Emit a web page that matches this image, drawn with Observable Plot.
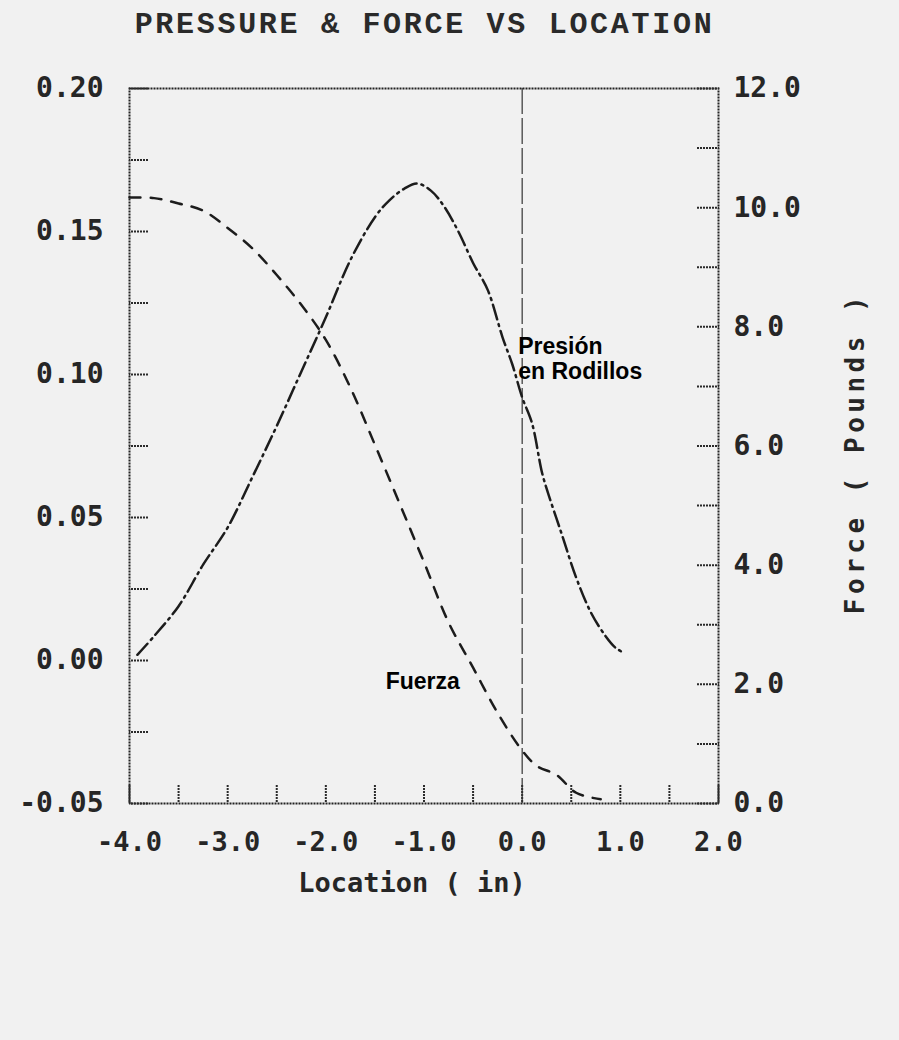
<!DOCTYPE html>
<html><head><meta charset="utf-8">
<script src="https://cdn.jsdelivr.net/npm/d3@7"></script>
<script src="https://cdn.jsdelivr.net/npm/@observablehq/plot@0.6"></script>
<style>
body{margin:0;background:#f1f1f1;width:899px;height:1040px;overflow:hidden}
#title{height:60px;width:899px;font:bold 30px "Liberation Mono",monospace;letter-spacing:2.7px;color:#2a2a2a;line-height:50px;text-align:center;padding-right:50px;box-sizing:border-box;white-space:nowrap}
</style></head><body>
<div id="title"></div>
<div id="chart"></div>
<script>
const titleText = "PRESSURE & FORCE VS LOCATION";
const xLabelText = "Location ( in)";
const rightLabelText = "Force ( Pounds )";

// Pressure (left axis), dash-dot curve
const pressureX = [-3.92, -3.75, -3.5, -3.25, -3.0, -2.75, -2.5, -2.25, -2.0, -1.75, -1.5, -1.35, -1.2, -1.07, -0.93, -0.8, -0.65, -0.5, -0.35, -0.2, -0.1, 0.0, 0.1, 0.2, 0.25, 0.4, 0.55, 0.7, 0.85, 0.95, 1.05];
const pressure  = [0.002, 0.0085, 0.019, 0.0335, 0.0465, 0.064, 0.082, 0.101, 0.120, 0.140, 0.155, 0.161, 0.165, 0.1668, 0.1643, 0.159, 0.150, 0.139, 0.1295, 0.113, 0.1035, 0.092, 0.083, 0.066, 0.060, 0.0445, 0.029, 0.0168, 0.0085, 0.0045, 0.0024];

// Force in pounds (right axis), dashed curve
const fuerzaX = [-4.0, -3.75, -3.5, -3.25, -3.0, -2.75, -2.5, -2.25, -2.0, -1.75, -1.5, -1.25, -1.0, -0.75, -0.5, -0.25, 0.0, 0.15, 0.35, 0.55, 0.8];
const fuerza  = [10.17, 10.16, 10.07, 9.95, 9.66, 9.32, 8.87, 8.37, 7.78, 6.98, 6.02, 5.04, 4.05, 3.04, 2.28, 1.52, 0.89, 0.63, 0.48, 0.18, 0.07];

const xTicks  = [-4, -3.5, -3, -2.5, -2, -1.5, -1, -0.5, 0, 0.5, 1, 1.5, 2];
const xLabels = [-4, -3, -2, -1, 0, 1, 2];
const pTicks  = [-0.05, -0.025, 0, 0.025, 0.05, 0.075, 0.1, 0.125, 0.15, 0.175, 0.2];
const pLabels = [-0.05, 0, 0.05, 0.1, 0.15, 0.2];
const fTicks  = [0, 1, 2, 3, 4, 5, 6, 7, 8, 9, 10, 11, 12];
const fLabels = [0, 2, 4, 6, 8, 10, 12];

const noteX = [-0.04, -0.04, -1.39];
const noteY = [0.1073, 0.0986, -0.0101];
const noteText = ["Presión", "en Rodillos", "Fuerza"];

document.getElementById("title").textContent = titleText;

const toP = f => -0.05 + f * 0.25 / 12;
const fromP = p => (p + 0.05) * 12 / 0.25;

const ink = "#262626";
const mono = "DejaVu Sans Mono";
const tickStyle = {label: null, tickFormat: () => "", stroke: "#2a2a2a", strokeWidth: 2, strokeDasharray: "2,1"};

const chart = Plot.plot({
  width: 899,
  height: 980,
  marginLeft: 129,
  marginRight: 181,
  marginTop: 28,
  marginBottom: 237,
  style: {background: "none", color: ink, fontFamily: mono, fontWeight: "bold", fontSize: "27px"},
  x: {domain: [-4, 2]},
  y: {domain: [-0.05, 0.2]},
  marks: [
    Plot.frame({stroke: "#222", strokeWidth: 2, strokeDasharray: "2,1"}),
    // inward ticks
    Plot.axisY(pTicks, {anchor: "left", tickSize: 19, dx: 19, ...tickStyle}),
    Plot.axisY(fTicks.map(toP), {anchor: "right", tickSize: 22, dx: -22, ...tickStyle}),
    Plot.axisX(xTicks, {anchor: "bottom", tickSize: 18, dy: -18, ...tickStyle}),
    // tick labels
    Plot.axisY(pLabels, {anchor: "left", tickSize: 0, tickPadding: 26, tickFormat: d => d.toFixed(2), label: null, fontSize: 28, fontFamily: mono, fontWeight: "bold", fill: ink}),
    Plot.axisY(fLabels.map(toP), {anchor: "right", tickSize: 0, tickPadding: 15, tickFormat: p => fromP(p).toFixed(1), label: null, fontSize: 28, fontFamily: mono, fontWeight: "bold", fill: ink}),
    Plot.axisX(xLabels, {anchor: "bottom", tickSize: 0, tickPadding: 28, tickFormat: d => d.toFixed(1), label: null, fontSize: 27, fontFamily: mono, fontWeight: "bold", fill: ink}),
    // axis titles
    Plot.text([xLabelText], {frameAnchor: "bottom", dy: 88, dx: -12, textAnchor: "middle", fontSize: 27, fontFamily: mono, fontWeight: "bold", fill: ink}),
    Plot.text([rightLabelText], {frameAnchor: "right", dx: 137, dy: 7, rotate: -90, textAnchor: "middle", fontSize: 26, fontFamily: mono, fontWeight: "bold", fill: ink}),
    // x = 0 reference line
    Plot.ruleX([0], {stroke: "#333", strokeWidth: 1.2, strokeDasharray: "26,4"}),
    // curves
    Plot.line(pressure, {x: pressureX, y: pressure, curve: "catmull-rom", stroke: "#1c1c1c", strokeWidth: 2.5, strokeDasharray: "15,5,2,5"}),
    Plot.line(fuerza, {x: fuerzaX, y: fuerza.map(toP), curve: "catmull-rom", stroke: "#1c1c1c", strokeWidth: 2.5, strokeDasharray: "11,10"}),
    // annotations
    Plot.text(noteText, {x: noteX, y: noteY, text: noteText, textAnchor: "start", lineAnchor: "bottom", fontFamily: "Liberation Sans", fontWeight: "bold", fontSize: 23, fill: "#000"})
  ]
});
d3.select(chart).selectAll("text")
  .filter(function() { return this.textContent === rightLabelText; })
  .style("letter-spacing", "4.5px");
document.getElementById("chart").appendChild(chart);
</script></body></html>
